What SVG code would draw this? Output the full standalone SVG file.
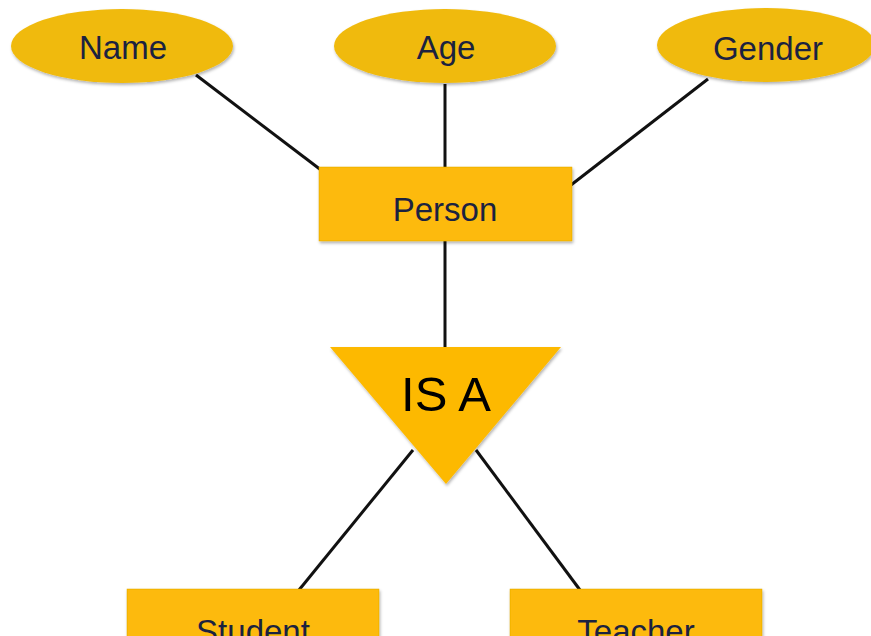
<svg xmlns="http://www.w3.org/2000/svg" width="871" height="636" viewBox="0 0 871 636">
<defs>
<filter id="sh" x="-10%" y="-10%" width="125%" height="130%">
<feDropShadow dx="1" dy="2" stdDeviation="1.5" flood-color="#000" flood-opacity="0.3"/>
</filter>
</defs>
<style>
.attr{fill:#F0BA0C;filter:url(#sh)}
.ent{fill:#FDBA08;stroke:#E0A800;stroke-width:0.5;filter:url(#sh)}
.isa{fill:#FDB906;filter:url(#sh)}
.t{font-family:"Liberation Sans",Arial,sans-serif;font-size:33px;fill:#1B2240;text-anchor:middle}
.big{font-family:"Liberation Sans",Arial,sans-serif;font-size:49px;fill:#000;text-anchor:middle}
.c{stroke:#111;stroke-width:3;fill:none}
</style>
<rect width="871" height="636" fill="#fff"/>
<g id="connectors">
<line class="c" x1="196" y1="75" x2="321" y2="170"/>
<line class="c" x1="445" y1="84" x2="445" y2="168"/>
<line class="c" x1="708" y1="79" x2="571" y2="185"/>
<line class="c" x1="445" y1="241" x2="445" y2="348"/>
<line class="c" x1="413" y1="450" x2="299" y2="590"/>
<line class="c" x1="476" y1="450" x2="580" y2="590"/>
</g>
<g id="name">
<ellipse class="attr" cx="122" cy="46" rx="111" ry="37"/>
<text class="t" x="123" y="59">Name</text>
</g>
<g id="age">
<ellipse class="attr" cx="445" cy="46" rx="111" ry="37"/>
<text class="t" x="446" y="59">Age</text>
</g>
<g id="gender">
<ellipse class="attr" cx="766" cy="45" rx="109" ry="37"/>
<text class="t" x="768" y="60">Gender</text>
</g>
<g id="person">
<rect class="ent" x="319" y="167" width="253" height="74"/>
<text class="t" x="445" y="221">Person</text>
</g>
<g id="isa">
<polygon class="isa" points="330,347 561,347 446,484"/>
<text class="big" x="446" y="411">IS A</text>
</g>
<g id="student">
<rect class="ent" x="127" y="589" width="252" height="74"/>
<text class="t" x="253" y="643">Student</text>
</g>
<g id="teacher">
<rect class="ent" x="510" y="589" width="252" height="74"/>
<text class="t" x="636" y="643">Teacher</text>
</g>
</svg>
